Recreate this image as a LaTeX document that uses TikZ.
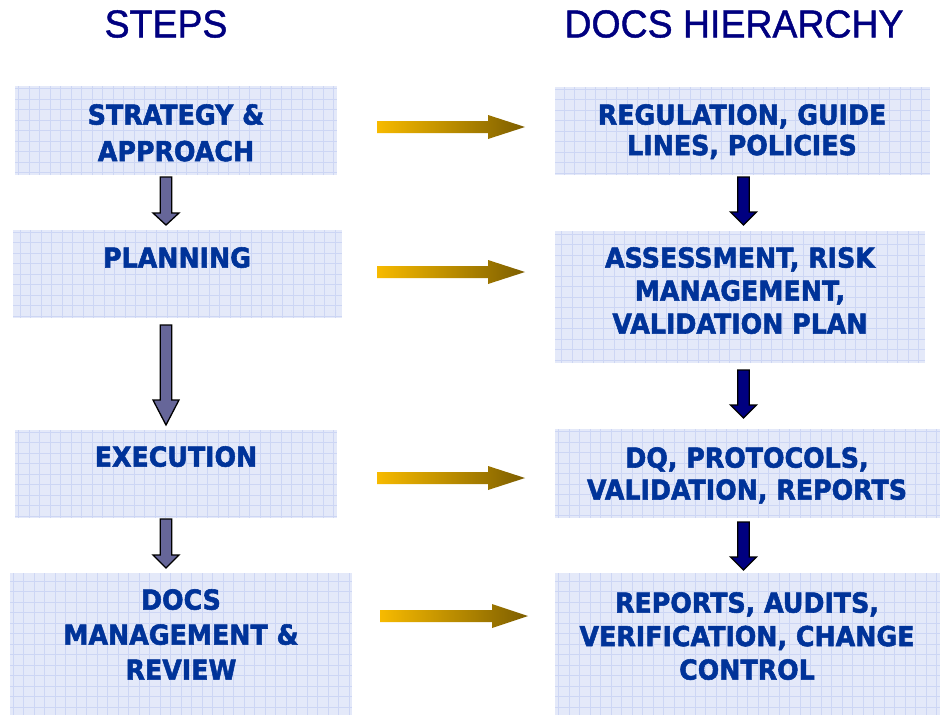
\documentclass[tikz,border=0pt]{standalone}
\usepackage{fontspec}
\setmainfont{DejaVu Sans}
\newfontfamily\headfont[FakeBold=1.2]{Liberation Sans}
\newfontfamily\boxfont[FakeBold=2]{DejaVu Sans Bold}
\definecolor{boxbg}{HTML}{E4E9F9}
\definecolor{gridc}{HTML}{CDD6F4}
\definecolor{textblue}{HTML}{003399}
\definecolor{headblue}{HTML}{000080}
\definecolor{leftar}{HTML}{666699}
\definecolor{rightar}{HTML}{000080}
\definecolor{goldA}{HTML}{F7BA00}
\definecolor{goldB}{HTML}{7D5E00}
\newcommand{\blkdown}[5]{% style, xc, top, headstart, tip
  \draw[#1] ({#2-5.8},#3) -- ({#2+5.8},#3) -- ({#2+5.8},#4) -- ({#2+13},#4) -- (#2,#5) -- ({#2-13},#4) -- ({#2-5.8},#4) -- cycle;}
\newcommand{\blkright}[4]{% x0, headstart, tip, yc
  \shade[goldarrow] (#1,{#4-6}) -- (#2,{#4-6}) -- (#2,{#4-12}) -- (#3,#4) -- (#2,{#4+12}) -- (#2,{#4+6}) -- (#1,{#4+6}) -- cycle;}
\tikzset{
  box/.style={fill=boxbg, draw=none, inner sep=0pt, anchor=north west,
    path picture={\draw[gridc, line width=0.8pt] (path picture bounding box.north west) grid[step=10.5pt] (path picture bounding box.south east);}},
  txt/.style={anchor=north, inner sep=0pt, align=center, text=textblue, xscale=0.92},
  head/.style={anchor=north, inner sep=0pt, text=headblue, xscale=0.96},
  downL/.style={fill=leftar, draw=black, line width=1.3pt, line join=miter},
  downR/.style={fill=rightar, draw=black, line width=1.3pt, line join=miter},
  goldarrow/.style={left color=goldA, right color=goldB, draw=none}
}
\begin{document}
\begin{tikzpicture}[x=1pt,y=-1pt]
\useasboundingbox[fill=white] (0,0) rectangle (943,715);
% headings
\node[head, font=\headfont\fontsize{39}{44}\selectfont] (hsteps) at (166,10) {STEPS};
\node[head, font=\headfont\fontsize{39}{44}\selectfont] (hdocs) at (734,10) {DOCS HIERARCHY};
% left boxes
\node[box, minimum width=322pt, minimum height=89pt] (s1) at (15,86) {};
\node[box, minimum width=329pt, minimum height=88pt] (s2) at (13,230) {};
\node[box, minimum width=322pt, minimum height=88pt] (s3) at (15,430) {};
\node[box, minimum width=342pt, minimum height=142pt] (s4) at (10,573) {};
% right boxes
\node[box, minimum width=375pt, minimum height=88pt] (r1) at (555,87) {};
\node[box, minimum width=370pt, minimum height=132pt] (r2) at (555,231) {};
\node[box, minimum width=385pt, minimum height=89pt] (r3) at (555,429) {};
\node[box, minimum width=385pt, minimum height=142pt] (r4) at (555,573) {};
% texts
\node[txt, font=\boxfont\fontsize{27.5}{36.5}\selectfont] (t1) at (176,104) {STRATEGY \&\\APPROACH};
\node[txt, font=\boxfont\fontsize{27.5}{33}\selectfont] (t2) at (177,247) {PLANNING};
\node[txt, font=\boxfont\fontsize{27.5}{33}\selectfont] (t3) at (176,446) {EXECUTION};
\node[txt, font=\boxfont\fontsize{27.5}{35}\selectfont] (t4) at (181,589) {DOCS\\MANAGEMENT \&\\REVIEW};
\node[txt, font=\boxfont\fontsize{27.5}{30.5}\selectfont] (u1) at (742,104) {REGULATION, GUIDE\\LINES, POLICIES};
\node[txt, font=\boxfont\fontsize{27.5}{33}\selectfont] (u2) at (740,247) {ASSESSMENT, RISK\\MANAGEMENT,\\VALIDATION PLAN};
\node[txt, font=\boxfont\fontsize{27.5}{32}\selectfont] (u3) at (747,447) {DQ, PROTOCOLS,\\VALIDATION, REPORTS};
\node[txt, font=\boxfont\fontsize{27.5}{33.5}\selectfont] (u4) at (747,592) {REPORTS, AUDITS,\\VERIFICATION, CHANGE\\CONTROL};
% left down arrows
\blkdown{downL}{166}{177}{213}{225}
\blkdown{downL}{166}{325}{400}{425}
\blkdown{downL}{166}{519}{555}{568}
% right down arrows
\blkdown{downR}{743.5}{177}{212}{225}
\blkdown{downR}{743.5}{370}{405}{418}
\blkdown{downR}{743.5}{522}{557}{570}
% horizontal gold arrows
\blkright{377}{488}{525}{127}
\blkright{377}{488}{525}{272}
\blkright{377}{488}{525}{478}
\blkright{380}{492}{528}{616}
\end{tikzpicture}
\end{document}
